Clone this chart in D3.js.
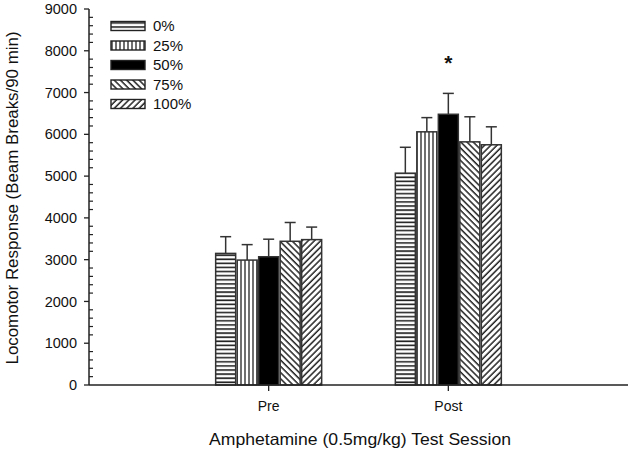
<!DOCTYPE html>
<html>
<head>
<meta charset="utf-8">
<script src="https://cdn.jsdelivr.net/npm/d3@7"></script>
<style>
  html, body { margin: 0; padding: 0; background: #fff; }
  svg { display: block; }
  text { font-family: Arial, "Liberation Sans", sans-serif; fill: #111; }
</style>
</head>
<body>
<script>
// ---- data ----
const sessions = ["Pre", "Post"];
const groups = ["0%", "25%", "50%", "75%", "100%"];
const preMeans = [3150, 2990, 3070, 3440, 3480];
const preErrors = [400, 370, 420, 450, 300];
const postMeans = [5070, 6060, 6480, 5820, 5750];
const postErrors = [620, 340, 500, 600, 430];
const yTicks = [0, 1000, 2000, 3000, 4000, 5000, 6000, 7000, 8000, 9000];
const significant = [{ session: "Post", group: "50%", label: "*" }];

const W = 630, H = 451;
const svg = d3.select("body").append("svg").attr("width", W).attr("height", H);

const margin = { left: 89, top: 9, bottom: 385, right: 628 };
const y = d3.scaleLinear().domain([0, 9000]).range([margin.bottom, margin.top]);
const xPos = d3.scaleLinear().domain([0, 3]).range([margin.left, margin.right]);
const sessionIndex = d3.scaleOrdinal().domain(sessions).range([1, 2]);
const inner = d3.scaleBand().domain(groups).range([-53, 53]).paddingInner(0.07);

// ---- patterns ----
const defs = svg.append("defs");
const ink = "#222";
function pat(id, w, h, draw, transform) {
  const p = defs.append("pattern").attr("id", id).attr("patternUnits", "userSpaceOnUse")
    .attr("width", w).attr("height", h);
  if (transform) p.attr("patternTransform", transform);
  p.append("rect").attr("width", w).attr("height", h).attr("fill", "#fff");
  draw(p);
}
pat("p0", 8, 4.1, p => p.append("line").attr("x1", 0).attr("x2", 8).attr("y1", 1).attr("y2", 1).attr("stroke", ink).attr("stroke-width", 1.6));
pat("p25", 4, 8, p => p.append("line").attr("x1", 1).attr("x2", 1).attr("y1", 0).attr("y2", 8).attr("stroke", ink).attr("stroke-width", 1.3));
pat("p75", 4.4, 8, p => p.append("line").attr("x1", 1).attr("x2", 1).attr("y1", 0).attr("y2", 8).attr("stroke", ink).attr("stroke-width", 1.5), "rotate(-45)");
pat("p100", 4.4, 8, p => p.append("line").attr("x1", 1).attr("x2", 1).attr("y1", 0).attr("y2", 8).attr("stroke", ink).attr("stroke-width", 1.5), "rotate(45)");
const fills = { "0%": "url(#p0)", "25%": "url(#p25)", "50%": "#000", "75%": "url(#p75)", "100%": "url(#p100)" };

// ---- data rows ----
const rows = [];
sessions.forEach(s => groups.forEach((g, i) => {
  rows.push({ session: s, group: g,
    mean: s === "Pre" ? preMeans[i] : postMeans[i],
    err: s === "Pre" ? preErrors[i] : postErrors[i] });
}));
const bx = d => xPos(sessionIndex(d.session)) + inner(d.group);

// ---- error bars ----
const eb = svg.append("g").attr("stroke", "#333").attr("stroke-width", 1.5);
eb.selectAll("line.v").data(rows).join("line").attr("class", "v")
  .attr("x1", d => bx(d) + inner.bandwidth() / 2).attr("x2", d => bx(d) + inner.bandwidth() / 2)
  .attr("y1", d => y(d.mean)).attr("y2", d => y(d.mean + d.err));
eb.selectAll("line.c").data(rows).join("line").attr("class", "c")
  .attr("x1", d => bx(d) + inner.bandwidth() / 2 - 5.5).attr("x2", d => bx(d) + inner.bandwidth() / 2 + 5.5)
  .attr("y1", d => y(d.mean + d.err)).attr("y2", d => y(d.mean + d.err));

// ---- bars ----
svg.append("g").selectAll("rect").data(rows).join("rect")
  .attr("x", d => bx(d)).attr("width", inner.bandwidth())
  .attr("y", d => y(d.mean)).attr("height", d => y(0) - y(d.mean))
  .attr("fill", d => fills[d.group]).attr("stroke", "#333").attr("stroke-width", 1.5);

// ---- significance ----
svg.append("g").selectAll("text").data(significant).join("text")
  .attr("x", d => xPos(sessionIndex(d.session)) + inner(d.group) + inner.bandwidth() / 2)
  .attr("y", d => { const r = rows.find(q => q.session === d.session && q.group === d.group); return y(r.mean + r.err) - 23; })
  .attr("text-anchor", "middle").attr("font-size", 21).attr("font-weight", "bold").text(d => d.label);

// ---- y axis ----
const yAxis = svg.append("g");
yAxis.append("line").attr("x1", margin.left).attr("x2", margin.left).attr("y1", y(0)).attr("y2", y(9000)).attr("stroke", "#222").attr("stroke-width", 1.5);
const minor = d3.range(0, 9001, 200).filter(v => v % 1000 !== 0);
yAxis.selectAll("line.mn").data(minor).join("line").attr("class", "mn")
  .attr("x1", margin.left).attr("x2", margin.left + 4).attr("y1", d => y(d)).attr("y2", d => y(d)).attr("stroke", "#222").attr("stroke-width", 1.2);
yAxis.selectAll("line.mj").data(yTicks).join("line").attr("class", "mj")
  .attr("x1", margin.left - 5).attr("x2", margin.left).attr("y1", d => y(d)).attr("y2", d => y(d)).attr("stroke", "#222").attr("stroke-width", 1.3);
yAxis.selectAll("text").data(yTicks).join("text")
  .attr("x", margin.left - 12).attr("y", d => y(d)).attr("dy", "0.35em")
  .attr("text-anchor", "end").attr("font-size", 14.5).text(d => d);

// ---- x axis ----
const xAxis = svg.append("g");
xAxis.append("line").attr("x1", margin.left).attr("x2", margin.right).attr("y1", y(0)).attr("y2", y(0)).attr("stroke", "#222").attr("stroke-width", 1.5);
xAxis.selectAll("line.t").data(sessions).join("line").attr("class", "t")
  .attr("x1", d => xPos(sessionIndex(d))).attr("x2", d => xPos(sessionIndex(d)))
  .attr("y1", y(0)).attr("y2", y(0) + 6).attr("stroke", "#222").attr("stroke-width", 1.3);
xAxis.selectAll("text").data(sessions).join("text")
  .attr("x", d => xPos(sessionIndex(d))).attr("y", 411)
  .attr("text-anchor", "middle").attr("font-size", 14).text(d => d);

// ---- axis titles ----
svg.append("text").attr("x", 360).attr("y", 445)
  .attr("text-anchor", "middle").attr("font-size", 16.5)
  .attr("textLength", 302).attr("lengthAdjust", "spacingAndGlyphs")
  .text("Amphetamine (0.5mg/kg) Test Session");
svg.append("text").attr("transform", "translate(18,198) rotate(-90)")
  .attr("text-anchor", "middle").attr("font-size", 16.5)
  .attr("textLength", 333).attr("lengthAdjust", "spacingAndGlyphs")
  .text("Locomotor Response (Beam Breaks/90 min)");

// ---- legend ----
const lg = svg.append("g").selectAll("g").data(groups).join("g")
  .attr("transform", (d, i) => `translate(111,${26 + i * 19.5})`);
lg.append("rect").attr("x", 0).attr("y", -4.5).attr("width", 34).attr("height", 9)
  .attr("fill", d => fills[d]).attr("stroke", "#222").attr("stroke-width", 1.4);
lg.append("text").attr("x", 42).attr("y", 0).attr("dy", "0.36em").attr("font-size", 15).text(d => d);
</script>
</body>
</html>
